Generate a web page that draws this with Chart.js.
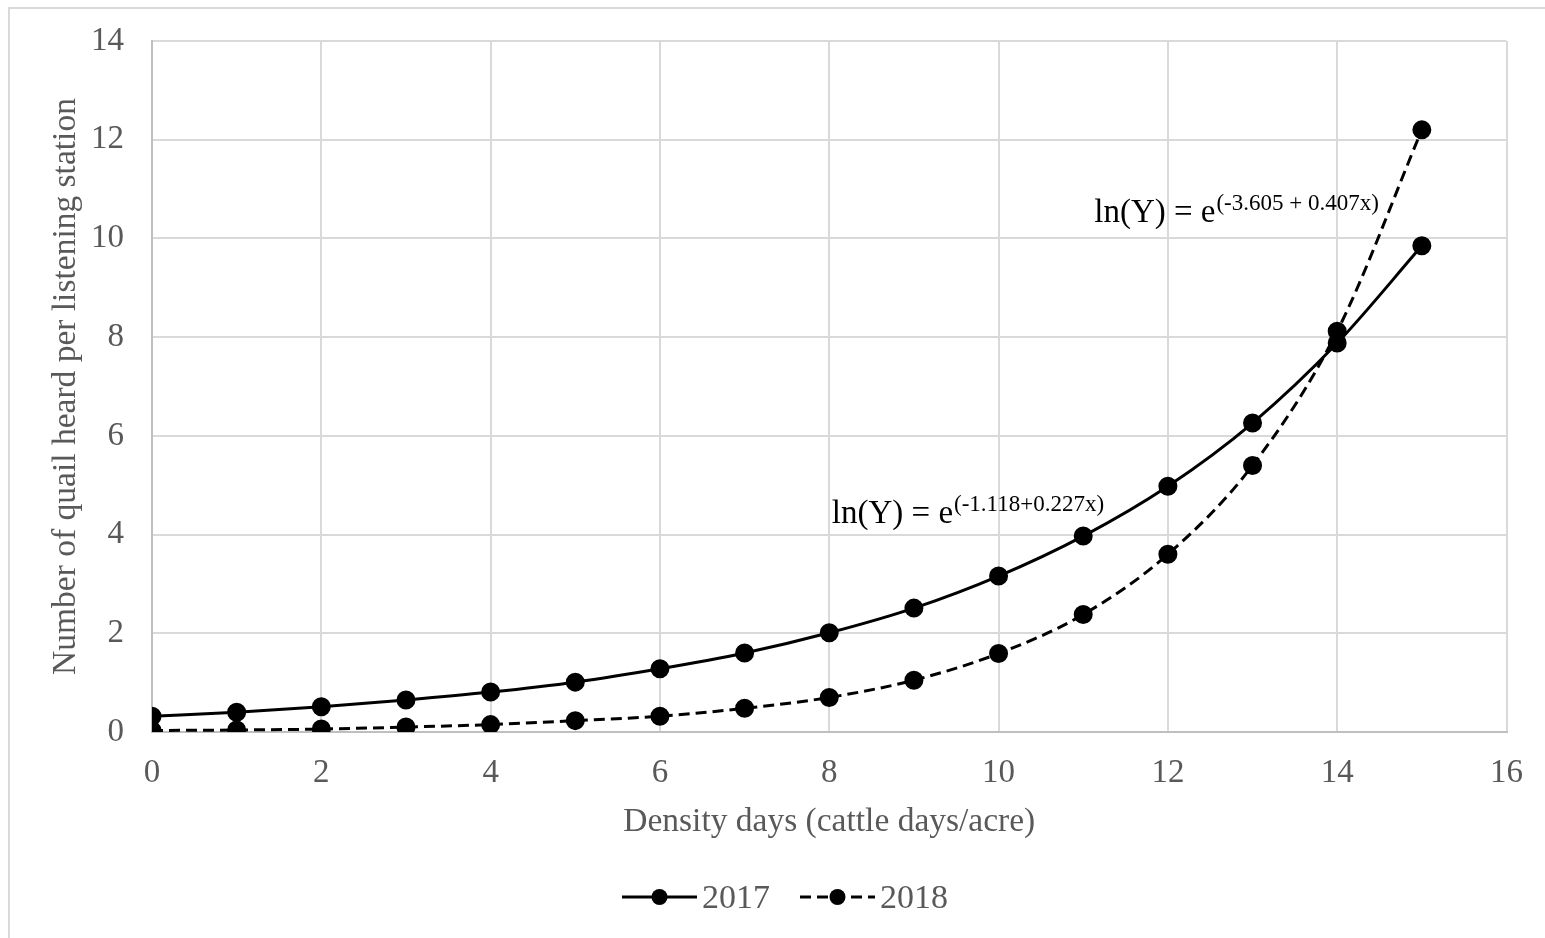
<!DOCTYPE html>
<html>
<head>
<meta charset="utf-8">
<script src="https://cdn.jsdelivr.net/npm/chart.js@4.4.0/dist/chart.umd.min.js"></script>
<style>
  html, body { margin: 0; padding: 0; background: #fff; }
  #wrap { position: relative; width: 1545px; height: 938px; }
  #frame { position: absolute; left: 8px; top: 7px; width: 1560px; height: 960px; border: 2px solid #d9d9d9; box-sizing: border-box; }
  #chart { position: absolute; left: 0; top: 0; }
</style>
</head>
<body>
<div id="wrap">
  <div id="frame"></div>
  <canvas id="chart" width="1545" height="938"></canvas>
</div>
<script>
// data
var density_days = [0, 1, 2, 3, 4, 5, 6, 7, 8, 9, 10, 11, 12, 13, 14, 15];
var quail_2017 = [0.32, 0.40, 0.51, 0.65, 0.81, 1.01, 1.28, 1.60, 2.01, 2.51, 3.16, 3.97, 4.98, 6.26, 7.88, 9.85];
var quail_2018 = [0.03, 0.04, 0.06, 0.10, 0.15, 0.23, 0.32, 0.48, 0.70, 1.05, 1.59, 2.38, 3.60, 5.40, 8.12, 12.2];
var series_names = ['2017', '2018'];

// equation labels (x, y in data units)
var equations = [
    { x: 11.13, y: 10.33, main: 'ln(Y) = e', sup: '(-3.605 + 0.407x)' },
    { x: 8.03, y: 4.23, main: 'ln(Y) = e', sup: '(-1.118+0.227x)' }
];

var FONT = "'Liberation Serif', 'Times New Roman', serif";
var TEXT = '#595959';

function points(xs, ys) {
    return xs.map((x, i) => ({ x: x, y: ys[i] }));
}

var equationPlugin = {
    id: 'equations',
    afterDatasetsDraw(chart) {
        var ctx = chart.ctx;
        var sx = chart.scales.x, sy = chart.scales.y;
        ctx.save();
        ctx.fillStyle = '#000';
        ctx.textBaseline = 'alphabetic';
        ctx.textAlign = 'left';
        equations.forEach(eq => {
            var px = sx.getPixelForValue(eq.x);
            var py = sy.getPixelForValue(eq.y);
            ctx.font = '33px ' + FONT;
            ctx.fillText(eq.main, px, py);
            var w = ctx.measureText(eq.main).width;
            ctx.font = '23px ' + FONT;
            ctx.fillText(eq.sup, px + w + 1, py - 12);
        });
        ctx.restore();
    }
};

var legendPlugin = {
    id: 'lineLegend',
    afterDraw(chart) {
        var ctx = chart.ctx;
        var cy = 897;
        var lineLen = 75, gap = 5, spacing = 30;
        ctx.save();
        ctx.font = '34px ' + FONT;
        var items = chart.data.datasets.map(ds => ({ ds: ds, w: lineLen + gap + ctx.measureText(ds.label).width }));
        var total = items.reduce((s, it) => s + it.w, 0) + spacing * (items.length - 1);
        var x = 785 - total / 2;
        items.forEach(it => {
            var ds = it.ds;
            ctx.strokeStyle = ds.borderColor;
            ctx.lineWidth = ds.borderWidth;
            ctx.setLineDash(ds.borderDash || []);
            ctx.beginPath();
            ctx.moveTo(x, cy);
            ctx.lineTo(x + lineLen, cy);
            ctx.stroke();
            ctx.setLineDash([]);
            ctx.fillStyle = ds.pointBackgroundColor;
            ctx.beginPath();
            ctx.arc(x + lineLen / 2, cy, ds.pointRadius, 0, Math.PI * 2);
            ctx.fill();
            ctx.fillStyle = TEXT;
            ctx.textBaseline = 'middle';
            ctx.textAlign = 'left';
            ctx.fillText(ds.label, x + lineLen + gap, cy + 2);
            x += it.w + spacing;
        });
        ctx.restore();
    }
};

var ctx = document.getElementById('chart').getContext('2d');
new Chart(ctx, {
    type: 'line',
    data: {
        datasets: [{
            label: series_names[0],
            data: points(density_days, quail_2017),
            borderColor: '#000',
            backgroundColor: '#000',
            pointBackgroundColor: '#000',
            pointBorderColor: '#000',
            borderWidth: 3,
            pointRadius: 8,
            tension: 0.4,
            cubicInterpolationMode: 'monotone'
        }, {
            label: series_names[1],
            data: points(density_days, quail_2018),
            borderColor: '#000',
            backgroundColor: '#000',
            pointBackgroundColor: '#000',
            pointBorderColor: '#000',
            borderWidth: 3,
            borderDash: [11, 6],
            pointRadius: 8,
            tension: 0.4,
            cubicInterpolationMode: 'monotone'
        }]
    },
    options: {
        responsive: false,
        animation: false,
        layout: { padding: { left: 45, right: 38, top: 41, bottom: 80 } },
        plugins: {
            legend: { display: false },
            tooltip: { enabled: false }
        },
        scales: {
            x: {
                type: 'linear',
                min: 0,
                max: 16,
                ticks: { stepSize: 2, color: TEXT, font: { family: FONT, size: 33 }, padding: 22 },
                grid: { color: '#d9d9d9', lineWidth: 2, drawTicks: false },
                border: { color: '#bfbfbf', width: 2 },
                title: { display: true, text: 'Density days (cattle days/acre)', color: TEXT, font: { family: FONT, size: 33.5 }, padding: { bottom: 16 } },
                afterFit(scale) { scale.height = 938 - 732 - 80; }
            },
            y: {
                min: 0,
                max: 14,
                ticks: { stepSize: 2, color: TEXT, font: { family: FONT, size: 33 }, padding: 28 },
                grid: { color: '#d9d9d9', lineWidth: 2, drawTicks: false },
                border: { color: '#bfbfbf', width: 2 },
                title: { display: true, text: 'Number of quail heard per listening station', color: TEXT, font: { family: FONT, size: 33.5 }, padding: { top: 1 } },
                afterFit(scale) {
                    scale.width = 152 - 45;
                    scale.paddingTop = 0;
                    scale.paddingBottom = 0;
                }
            }
        }
    },
    plugins: [equationPlugin, legendPlugin]
});
</script>
</body>
</html>
